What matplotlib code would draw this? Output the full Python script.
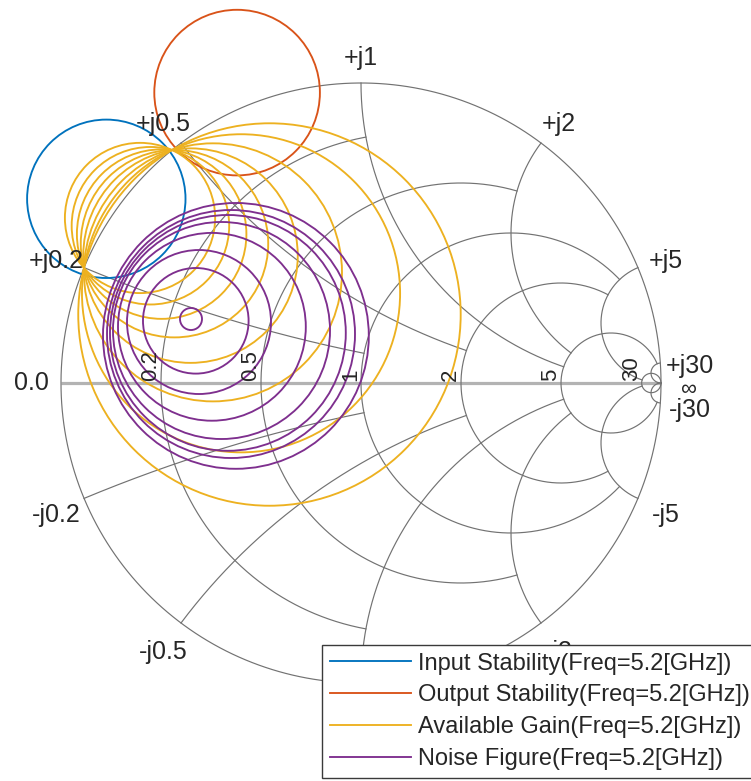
import numpy as np
import matplotlib
matplotlib.use("Agg")
import matplotlib.pyplot as plt
from matplotlib.patches import Circle
from matplotlib.lines import Line2D

plt.rcParams['font.family'] = ['Liberation Sans', 'DejaVu Sans']

# ---------------- data (reflection-coefficient plane) ----------------
grid_values = [0.2, 0.5, 1, 2, 5, 30]
grid_clip = [1, 2, 5, 5, 30, np.inf]
r_labels = ['0.2', '0.5', '1', '2', '5', '30']
x_labels_pos = ['+j0.2', '+j0.5', '+j1', '+j2', '+j5', '+j30']
x_labels_neg = ['-j0.2', '-j0.5', '-j1', '-j2', '-j5', '-j30']

freq_label = 'Freq=5.2[GHz]'

# input stability circle
in_stab_cx = [-0.849]
in_stab_cy = [0.614]
in_stab_r = [0.264]

# output stability circle
out_stab_cx = [-0.413]
out_stab_cy = [0.968]
out_stab_r = [0.276]

# available gain circles
ga_cx = [-0.3051, -0.3999, -0.4935, -0.5683, -0.6217, -0.6645, -0.7019, -0.7366]
ga_cy = [0.2283, 0.2990, 0.3688, 0.4246, 0.4644, 0.4963, 0.5242, 0.5501]
ga_r = [0.6374, 0.5302, 0.4301, 0.3575, 0.3124, 0.2825, 0.2625, 0.2504]

# noise figure circles
nf_cx = [-0.5667, -0.5507, -0.5400, -0.4970, -0.4650, -0.4437, -0.4333, -0.4170]
nf_cy = [0.2133, 0.2073, 0.2033, 0.1873, 0.1750, 0.1670, 0.1633, 0.1570]
nf_r = [0.0367, 0.1760, 0.2400, 0.3130, 0.3617, 0.3930, 0.4133, 0.4430]

colors = {'in': '#0072BD', 'out': '#D95319', 'ga': '#EDB120', 'nf': '#7E2F8E'}

# ---------------- figure ----------------
W, H = 751, 781
S = 300.0          # pixels per unit of |Gamma|
C0 = (361.0, 383.0)  # pixel position of chart centre
fig = plt.figure(figsize=(W / 100, H / 100), dpi=100)
ax = fig.add_axes([0, 0, 1, 1])
ax.set_xlim(-C0[0] / S, (W - C0[0]) / S)
ax.set_ylim(-(H - C0[1]) / S, C0[1] / S)
ax.set_aspect('auto')
ax.axis('off')

grid_col = '#727272'
grid_lw = 0.85


def gamma(z):
    return (z - 1) / (z + 1)


# real axis
ax.plot([-1, 1], [0, 0], color='#b3b3b3', lw=2.3, zorder=1, solid_capstyle='butt')
# outer circle
t = np.linspace(0, 2 * np.pi, 800)
ax.plot(np.cos(t), np.sin(t), color=grid_col, lw=grid_lw, zorder=1)

for v, c in zip(grid_values, grid_clip):
    # resistance circle
    u = np.linspace(-np.arctan(c), np.arctan(c), 900)
    g = gamma(v + 1j * np.tan(u))
    ax.plot(g.real, g.imag, color=grid_col, lw=grid_lw, zorder=1)
    # reactance arcs
    u = np.linspace(0, np.arctan(c), 900)
    for s in (1, -1):
        g = gamma(np.tan(u) + 1j * s * v)
        ax.plot(g.real, g.imag, color=grid_col, lw=grid_lw, zorder=1)

fs_r = 16
fs_x = 18
txt_col = '#262626'
# resistance labels
for v, lab in zip(grid_values, r_labels):
    gx = (v - 1) / (v + 1)
    ax.text(gx, 0.008, lab, rotation=90, ha='right', va='bottom', fontsize=fs_r,
            color=txt_col, zorder=3)

# reactance labels
dy = -5 / S
for v, lp, ln in zip(grid_values, x_labels_pos, x_labels_neg):
    for s, lab in ((1, lp), (-1, ln)):
        g = gamma(1j * s * v)
        ax.text(1.1 * g.real, 1.1 * g.imag + dy, lab, ha='center', va='center',
                fontsize=fs_x, color=txt_col, zorder=3)
ax.text(-1.1, 0, '0.0', ha='center', va='center', fontsize=fs_x, color=txt_col, zorder=3)
ax.text(1.09, dy - 1 / S, '\u221e', ha='center', va='center', fontsize=fs_r, color=txt_col, zorder=3)

lw_data = 1.35


def draw_family(cx, cy, rr, col):
    for x0, y0, r0 in zip(cx, cy, rr):
        ax.add_patch(Circle((x0, y0), r0, fill=False, edgecolor=col, lw=lw_data, zorder=2))


draw_family(in_stab_cx, in_stab_cy, in_stab_r, colors['in'])
draw_family(out_stab_cx, out_stab_cy, out_stab_r, colors['out'])
draw_family(ga_cx, ga_cy, ga_r, colors['ga'])
draw_family(nf_cx, nf_cy, nf_r, colors['nf'])

handles = [Line2D([], [], color=colors[k], lw=lw_data) for k in ('in', 'out', 'ga', 'nf')]
labels = ['Input Stability(%s)' % freq_label, 'Output Stability(%s)' % freq_label,
          'Available Gain(%s)' % freq_label, 'Noise Figure(%s)' % freq_label]
leg = ax.legend(handles, labels, loc='upper left', bbox_to_anchor=(322 / W, 1 - 645 / H),
                bbox_transform=fig.transFigure, borderaxespad=0, fontsize=17,
                handlelength=3.45, handletextpad=0.3, borderpad=0.32, labelspacing=0.42,
                fancybox=False, framealpha=1, edgecolor='#3a3a3a')
leg.get_frame().set_linewidth(1.0)
leg.set_zorder(10)
for txt in leg.get_texts():
    txt.set_color(txt_col)

fig.savefig('out.png', dpi=100)
